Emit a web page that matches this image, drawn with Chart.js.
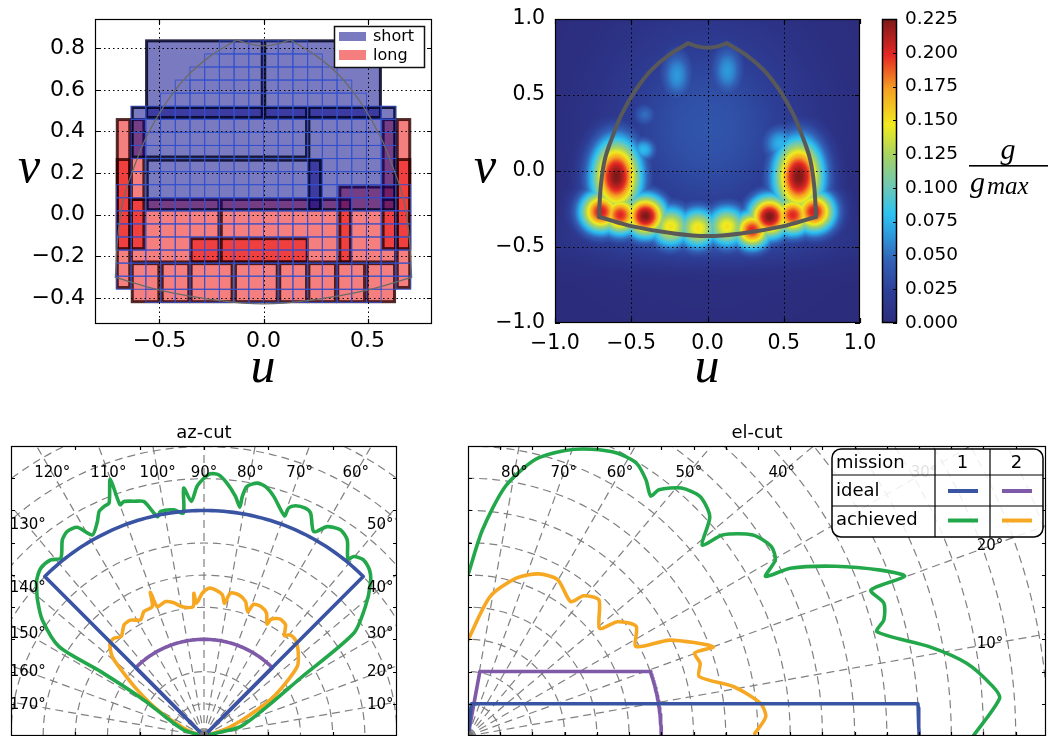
<!DOCTYPE html>
<html><head><meta charset="utf-8"><title>uv coverage and cuts</title>
<script src="https://cdn.jsdelivr.net/npm/chart.js@4.4.1/dist/chart.umd.min.js"></script>
<style>
html,body{margin:0;padding:0;background:#fff;}
body{position:relative;width:1048px;height:736px;overflow:hidden;}
canvas{position:absolute;}
</style></head><body>
<canvas id="cv1" width="440" height="400" style="left:0px;top:0px"></canvas>
<canvas id="cv2" width="450" height="400" style="left:440px;top:0px"></canvas>
<canvas id="cv2b" width="176" height="400" style="left:872px;top:0px"></canvas>
<canvas id="cv3" width="420" height="326" style="left:0px;top:410px"></canvas>
<canvas id="cv4" width="593" height="326" style="left:455px;top:410px"></canvas>
<script>
const DEG = Math.PI / 180;
Chart.defaults.font.family = '"DejaVu Sans", sans-serif';
Chart.defaults.color = '#000';

// ================= DATA: panel 1 (u,v layout) =================
const p1XTicks = [-0.5, 0.0, 0.5];
const p1YTicks = [-0.4, -0.2, 0.0, 0.2, 0.4, 0.6, 0.8];
const cellWidth = 0.0707, cellHeight = 0.0628, cellTopV = 0.835;
const cellRowHalf = [3,4,5,6,7,9,9,9,9,9,9,10,10,10,10,10,10,10,10,8];
const shortU0 = [-0.562, 0.006, -0.631, 0.218, -0.559];
const shortU1 = [-0.006, 0.562, 0.207, 0.631, 0.274];
const shortV0 = [0.467, 0.467, 0.277, 0.024, 0.024];
const shortV1 = [0.835, 0.835, 0.515, 0.515, 0.262];
const longU0 = [-0.703,-0.703,-0.635,-0.635, 0.643,0.643,0.575,0.575, -0.635,-0.203,0.367,-0.348, -0.631,-0.487,-0.348,-0.135,0.078,0.218,0.357,0.498];
const longU1 = [-0.643,-0.643,-0.575,-0.575, 0.703,0.703,0.635,0.635, -0.214,0.418,0.635,0.210, -0.503,-0.359,-0.151,0.066,0.207,0.346,0.486,0.630];
const longV0 = [-0.350,-0.163,0.073,-0.163, -0.350,-0.163,0.073,-0.163, -0.227,-0.227,-0.227,-0.227, -0.418,-0.418,-0.418,-0.418,-0.418,-0.418,-0.418,-0.418];
const longV1 = [0.457,0.265,0.457,0.073, 0.457,0.265,0.457,0.073, 0.073,0.073,0.133,-0.115, -0.235,-0.235,-0.235,-0.235,-0.235,-0.235,-0.235,-0.235];
const legendNames = ['short', 'long'];

// coverage outline (shared by both top panels)
const edgeLeftU = [-0.712,-0.700,-0.674,-0.623,-0.560,-0.471,-0.369,-0.254,-0.127];
const edgeLeftV = [-0.301,-0.103,0.072,0.226,0.379,0.533,0.664,0.763,0.840];
const edgeTopU = [-0.127,-0.060,0.000,0.060,0.127];
const edgeTopV = [0.840,0.818,0.811,0.818,0.840];
const edgeRightU = [0.127,0.254,0.369,0.471,0.560,0.623,0.674,0.700,0.712];
const edgeRightV = [0.840,0.763,0.664,0.533,0.379,0.226,0.072,-0.103,-0.301];
const edgeBottomU = [0.712,0.483,0.229,0.000,-0.229,-0.483,-0.712];
const edgeBottomV = [-0.301,-0.366,-0.410,-0.428,-0.410,-0.366,-0.301];

// ================= DATA: panel 2 (g / g_max map) =================
const p2Ticks = [-1.0, -0.5, 0.0, 0.5, 1.0];
const cbarTicks = [0.000,0.025,0.050,0.075,0.100,0.125,0.150,0.175,0.200,0.225];
const gMax = 0.225;
const hotU  = [-0.597, 0.598,-0.699,-0.572,-0.407,-0.241,-0.063, 0.127, 0.293, 0.407, 0.559, 0.699,-0.42, 0.48,-0.20, 0.13,-0.41, 0.00, 0.00];
const hotV  = [-0.037,-0.037,-0.268,-0.289,-0.296,-0.366,-0.377,-0.366,-0.388,-0.300,-0.290,-0.268, 0.14, 0.18, 0.63, 0.66, 0.37, 0.28,-0.42];
const hotG  = [ 0.225, 0.225, 0.205, 0.200, 0.225, 0.150, 0.150, 0.150, 0.200, 0.225, 0.200, 0.205, 0.078,0.075,0.065,0.065,0.050,0.038,0.045];
const hotSu = [ 0.115, 0.115, 0.10, 0.095, 0.10, 0.10, 0.10, 0.10, 0.09, 0.10, 0.095, 0.10, 0.065, 0.09, 0.08, 0.08, 0.06, 0.45, 0.55];
const hotSv = [ 0.175, 0.175, 0.10, 0.095, 0.10, 0.10, 0.10, 0.10, 0.09, 0.10, 0.095, 0.10, 0.06, 0.09, 0.13, 0.13, 0.06, 0.48, 0.13];
// colour map (muted jet)
const cmapPos = [0.00, 0.10, 0.20, 0.30, 0.36, 0.45, 0.55, 0.65, 0.77, 0.88, 1.00];
const cmapR   = [  44,   45,   50,   45,   45,  110,  165,  240,  245,  230,  125];
const cmapG   = [  44,   62,   95,  160,  195,  200,  210,  235,  160,   40,   25];
const cmapB   = [ 124,  150,  180,  225,  240,  180,  100,   30,   35,   35,   25];

// ================= DATA: panel 3 (az-cut) =================
const azIdealR = [7, 3];             // mission 1, mission 2
const azIdealSpan = [45, 135];       // degrees
const azGreenTheta = [5,13,14.3,24.9,30.9,34.4,38.7,42.5,45.0,47.8,50.1,50.8,53.8,56.5,59.5,61.7,64.4,66.0,68.3,69.6,69.9,73.7,76.1,78.1,80.2,80.9,81.1,82.5,84.8,86.8,88.6,90.0,91.6,93.1,94.7,95.3,97.6,101.0,102.0,104.4,106.5,108.9,110.0,110.1,112.2,113.6,115.1,116.5,119.1,121.3,123.8,125.9,128.9,131.1,134.3,137.0,138.3,140.8,144.4,148.4,148.1,149.1,154.3,163.5,175];
const azGreenR     = [0,0.37,1.17,2.16,3.49,5.64,6.43,7.02,7.28,7.38,7.26,7.08,7.54,7.68,7.54,7.20,7.67,7.74,7.69,7.55,7.28,7.74,7.97,8.02,7.86,7.53,7.19,7.50,7.88,8.12,8.14,8.00,7.75,7.29,7.72,6.95,7.08,7.10,6.96,7.51,7.60,7.69,7.64,8.48,7.81,7.77,7.69,7.43,7.14,7.58,7.64,7.51,7.09,7.25,7.27,7.11,6.97,6.68,6.18,5.29,3.78,2.18,1.27,0.65,0];
const azOrangeTheta = [8,16.9,24.1,29.4,36.6,42.4,46.4,49.7,51.2,53.7,57.1,60.1,60.6,63.0,66.1,69.3,70.6,72.8,76.1,79.5,81.2,82.6,85.5,88.1,90.7,93.2,94.1,94.8,99.6,102.8,106.0,109.9,110.5,111.8,115.8,118.7,122.4,125.8,129.8,132.7,135.5,139.2,142.0,145.4,149.7,154.7,162,172];
const azOrangeR     = [0,0.64,1.47,2.49,3.61,3.96,4.12,4.12,3.99,4.28,4.33,4.18,3.99,4.28,4.39,4.37,4.09,4.37,4.51,4.51,4.17,4.42,4.55,4.59,4.43,4.13,4.44,4.03,4.07,4.24,4.34,4.27,4.76,4.33,4.29,4.11,4.26,4.25,4.02,4.13,4.10,3.77,3.16,2.52,1.80,1.04,0.44,0];
const azLabelAngles = [10,20,30,40,50,60,70,80,90,100,110,120,130,140,150,160,170];

// ================= DATA: panel 4 (el-cut) =================
const elIdealHeight = [1, 2];
const elIdealRmax = [14, 6];
const elIdealTopAngle = [84, 79.6];
const elGreenTheta = [0.1,4.05,5.4,8.3,10.97,14.3,15.6,17.7,19.9,20.1,21.9,24.8,27.5,28.2,29.8,32.0,35.2,38.3,39.2,42.2,45.9,49.3,52.2,52.7,55.2,58.3,62.1,66.7,71.2,76.4,81.5,86.0,90.0];
const elGreenR     = [15.7,16.54,16.36,15.64,14.58,13.1,13.4,13.55,13.3,14.43,13.8,12.56,11.28,10.48,10.99,11.1,10.82,10.07,9.38,10.13,10.35,10.15,9.67,9.36,9.68,9.95,9.93,9.69,9.36,8.82,7.83,6.41,5.00];
const elOrangeTheta = [0.5,3.7,6.4,10.5,14.4,17.4,20.1,20.0,25.4,28.0,33.1,37.4,39.3,46.1,50.5,52.6,60.1,66.4,73.0,81.0,90.0];
const elOrangeR     = [8.9,9.26,9.13,8.39,7.41,7.55,7.49,8.10,6.94,5.91,6.23,5.84,5.28,5.86,5.64,5.25,5.59,5.49,5.12,4.38,2.98];
const elLabelAngles = [10,20,30,40,50,60,70,80];
const tableRows = ['mission', 'ideal', 'achieved'];
const tableCols = ['1', '2'];

// ================= styles =================
const C_BLUE = '#3a54a4', C_PURPLE = '#7f5aa8', C_GREEN = '#22a84a', C_ORANGE = '#f7a823';
const shortFill = 'rgba(0,0,135,0.52)', shortEdge = 'rgba(5,5,40,0.88)';
const longFill = 'rgba(235,0,0,0.5)', longEdge = 'rgba(45,0,0,0.82)';

// ================= helpers =================
function fmt(d) { return v => (Math.abs(v) < 1e-9 ? 0 : v).toFixed(d).replace('-', '\u2212'); }
const fixedTicks = arr => axis => { axis.ticks = arr.map(v => ({value: v})); };
const zeroPad = s => { s.paddingTop = 0; s.paddingBottom = 0; s.paddingLeft = 0; s.paddingRight = 0; };
const fitW = w => s => { s.width = w; zeroPad(s); };
const fitH = h => s => { s.height = h; zeroPad(s); };
function axis(min, max, ticks, size, pad, f, fit, position) {
  return { type: 'linear', min, max, position, afterBuildTicks: fixedTicks(ticks), afterFit: fit,
    grid: {display: false, drawTicks: false}, border: {display: false},
    ticks: {padding: pad, font: {size}, color: '#000', callback: f, autoSkip: false, maxRotation: 0, minRotation: 0} };
}
function hiddenAxis(min, max) { return {type: 'linear', min, max, display: false}; }
function baseOpts(padding, scales) {
  return { responsive: false, animation: false, events: [],
    layout: {padding, autoPadding: false},
    plugins: {legend: {display: false}, tooltip: {enabled: false}, title: {display: false}},
    scales };
}
function drawFrame(chart, xt, yt, len, lw) {
  const {ctx, chartArea: a, scales: {x, y}} = chart;
  ctx.save();
  ctx.setLineDash([]);
  ctx.strokeStyle = '#000'; ctx.lineWidth = lw || 1;
  ctx.strokeRect(Math.round(a.left) + 0.5, Math.round(a.top) + 0.5, Math.round(a.right - a.left) - 1, Math.round(a.bottom - a.top) - 1);
  ctx.beginPath();
  xt.forEach(v => { const px = Math.round(x.getPixelForValue(v)) + 0.5;
    ctx.moveTo(px, a.bottom); ctx.lineTo(px, a.bottom - len); ctx.moveTo(px, a.top); ctx.lineTo(px, a.top + len); });
  yt.forEach(v => { const py = Math.round(y.getPixelForValue(v)) + 0.5;
    ctx.moveTo(a.left, py); ctx.lineTo(a.left + len, py); ctx.moveTo(a.right, py); ctx.lineTo(a.right - len, py); });
  ctx.stroke();
  ctx.restore();
}
function drawDotGrid(chart, xt, yt) {
  const {ctx, chartArea: a, scales: {x, y}} = chart;
  ctx.save();
  ctx.strokeStyle = '#000'; ctx.lineWidth = 1; ctx.setLineDash([1.5, 3]);
  ctx.beginPath();
  xt.forEach(v => { const px = Math.round(x.getPixelForValue(v)) + 0.5; ctx.moveTo(px, a.top); ctx.lineTo(px, a.bottom); });
  yt.forEach(v => { const py = Math.round(y.getPixelForValue(v)) + 0.5; ctx.moveTo(a.left, py); ctx.lineTo(a.right, py); });
  ctx.stroke();
  ctx.restore();
}
function outlineDatasets(color, width) {
  const segs = [[edgeLeftU, edgeLeftV], [edgeTopU, edgeTopV], [edgeRightU, edgeRightV], [edgeBottomU, edgeBottomV]];
  return segs.map(([U, V]) => ({ data: U.map((u, i) => ({x: u, y: V[i]})), showLine: true,
    borderColor: color, borderWidth: width, pointRadius: 0, tension: 0.4, fill: false,
    borderCapStyle: 'round', borderJoinStyle: 'round' }));
}
function cmap(f) {
  f = Math.max(0, Math.min(1, f));
  for (let i = 1; i < cmapPos.length; i++) {
    if (f <= cmapPos[i]) {
      const t = (f - cmapPos[i - 1]) / (cmapPos[i] - cmapPos[i - 1]);
      return [cmapR[i-1] + t * (cmapR[i] - cmapR[i-1]), cmapG[i-1] + t * (cmapG[i] - cmapG[i-1]), cmapB[i-1] + t * (cmapB[i] - cmapB[i-1])];
    }
  }
  return [cmapR[cmapR.length-1], cmapG[cmapG.length-1], cmapB[cmapB.length-1]];
}
function field(u, v) {
  let g = 0;
  for (let i = 0; i < hotU.length; i++) {
    const du = (u - hotU[i]) / hotSu[i], dv = (v - hotV[i]) / hotSv[i];
    const val = hotG[i] * Math.exp(-0.5 * (du * du + dv * dv));
    if (val > g) g = val;
  }
  return g;
}
function mathLabel(ctx, txt, x, y, size) {
  ctx.save();
  ctx.font = 'italic ' + size + 'px "Liberation Serif", serif';
  ctx.fillStyle = '#000'; ctx.textAlign = 'center'; ctx.textBaseline = 'alphabetic';
  ctx.fillText(txt, x, y);
  ctx.restore();
}
const polar = (t, r) => ({x: r * Math.cos(t * DEG), y: r * Math.sin(t * DEG)});
const polarSeries = (T, R) => T.map((t, i) => polar(t, R[i]));
function azIdealPath(m) {
  const pts = [{x: 0, y: 0}];
  for (let t = azIdealSpan[0]; t <= azIdealSpan[1]; t += 1) pts.push(polar(t, azIdealR[m]));
  pts.push({x: 0, y: 0});
  return pts;
}
function elIdealPath(m) {
  const h = elIdealHeight[m], R = elIdealRmax[m], t0 = elIdealTopAngle[m];
  const pts = [{x: 0, y: 0}, {x: h / Math.tan(t0 * DEG), y: h}];
  const tc = Math.asin(h / R) / DEG;
  for (let t = tc; t > 0; t -= 0.5) pts.push(polar(t, R));
  pts.push({x: R, y: 0});
  return pts;
}
function lineDs(data, color, tension) {
  return {data, showLine: true, borderColor: color, borderWidth: 3.6, pointRadius: 0, fill: false,
    tension, clip: 0, borderJoinStyle: 'round', borderCapStyle: 'round'};
}

// ================= panel 1 =================
const p1Plugin = {
  id: 'p1decor',
  beforeDatasetsDraw(chart) {
    const {ctx, chartArea: a, scales: {x, y}} = chart;
    const box = (u0, u1, v0, v1) => { const X0 = x.getPixelForValue(u0), X1 = x.getPixelForValue(u1);
      const Y0 = y.getPixelForValue(v1), Y1 = y.getPixelForValue(v0); return [X0, Y0, X1 - X0, Y1 - Y0]; };
    ctx.save();
    ctx.beginPath(); ctx.rect(a.left, a.top, a.right - a.left, a.bottom - a.top); ctx.clip();
    ctx.lineWidth = 3;
    ctx.fillStyle = longFill;
    longU0.forEach((_, i) => ctx.fillRect(...box(longU0[i], longU1[i], longV0[i], longV1[i])));
    ctx.strokeStyle = longEdge;
    longU0.forEach((_, i) => ctx.strokeRect(...box(longU0[i], longU1[i], longV0[i], longV1[i])));
    ctx.fillStyle = shortFill;
    shortU0.forEach((_, i) => ctx.fillRect(...box(shortU0[i], shortU1[i], shortV0[i], shortV1[i])));
    ctx.strokeStyle = shortEdge;
    shortU0.forEach((_, i) => ctx.strokeRect(...box(shortU0[i], shortU1[i], shortV0[i], shortV1[i])));
    ctx.strokeStyle = 'rgba(50,80,205,0.9)'; ctx.lineWidth = 1;
    cellRowHalf.forEach((hw, k) => {
      const vT = cellTopV - k * cellHeight, vB = vT - cellHeight;
      for (let c = -hw; c < hw; c++) ctx.strokeRect(...box(c * cellWidth, (c + 1) * cellWidth, vB, vT));
    });
    ctx.restore();
    drawDotGrid(chart, p1XTicks, p1YTicks);
  },
  afterDatasetsDraw(chart) {
    const {ctx} = chart;
    drawFrame(chart, p1XTicks, p1YTicks, 5, 1.2);
    ctx.save();
    ctx.fillStyle = '#fff'; ctx.fillRect(334, 26, 91, 42);
    ctx.strokeStyle = '#111'; ctx.lineWidth = 1.5; ctx.strokeRect(334.5, 26.5, 90, 41);
    ctx.fillStyle = shortFill; ctx.fillRect(339, 32, 27, 9);
    ctx.fillStyle = longFill; ctx.fillRect(339, 50, 27, 10);
    ctx.fillStyle = '#000'; ctx.font = '16px "DejaVu Sans"'; ctx.textBaseline = 'middle'; ctx.textAlign = 'left';
    ctx.fillText(legendNames[0], 373, 37);
    ctx.fillText(legendNames[1], 373, 56);
    ctx.restore();
    mathLabel(ctx, 'v', 29, 182, 50);
    mathLabel(ctx, 'u', 263, 382, 50);
  }
};
new Chart(document.getElementById('cv1'), {
  type: 'scatter',
  data: {datasets: outlineDatasets('#6a6a6a', 1.3)},
  options: baseOpts({left: 0, top: 19, right: 8, bottom: 0}, {
    x: axis(-0.81, 0.81, p1XTicks, 22, 4, fmt(1), fitH(76), 'bottom'),
    y: axis(-0.525, 0.94, p1YTicks, 22, 10, fmt(1), fitW(95), 'left')
  }),
  plugins: [p1Plugin]
});

// ================= panel 2 =================
const p2Plugin = {
  id: 'p2decor',
  beforeDatasetsDraw(chart) {
    const {ctx, chartArea: a, scales: {x, y}} = chart;
    const L = Math.round(a.left), T = Math.round(a.top);
    const w = Math.round(a.right) - L, h = Math.round(a.bottom) - T;
    const img = ctx.createImageData(w, h);
    for (let j = 0; j < h; j++) {
      const v = y.getValueForPixel(T + j + 0.5);
      for (let i = 0; i < w; i++) {
        const u = x.getValueForPixel(L + i + 0.5);
        const c = cmap(field(u, v) / gMax);
        const k = 4 * (j * w + i);
        img.data[k] = c[0]; img.data[k + 1] = c[1]; img.data[k + 2] = c[2]; img.data[k + 3] = 255;
      }
    }
    ctx.putImageData(img, L, T);
    drawDotGrid(chart, [-0.5, 0, 0.5], [-0.5, 0, 0.5]);
  },
  afterDatasetsDraw(chart) {
    drawFrame(chart, p2Ticks, p2Ticks, 5, 1.2);
    mathLabel(chart.ctx, 'v', 45, 182, 50);
    mathLabel(chart.ctx, 'u', 267, 382, 50);
  }
};
new Chart(document.getElementById('cv2'), {
  type: 'scatter',
  data: {datasets: outlineDatasets('#595959', 4)},
  options: baseOpts({left: 0, top: 19, right: 30, bottom: 0}, {
    x: axis(-1, 1, p2Ticks, 20.5, 8, fmt(1), fitH(77), 'bottom'),
    y: axis(-1, 1, p2Ticks, 20.5, 10, fmt(1), fitW(115), 'left')
  }),
  plugins: [p2Plugin]
});

// colour bar
const cbPlugin = {
  id: 'cbdecor',
  beforeDatasetsDraw(chart) {
    const {ctx, chartArea: a, scales: {y}} = chart;
    for (let py = Math.round(a.top); py < Math.round(a.bottom); py++) {
      const c = cmap(y.getValueForPixel(py + 0.5) / gMax);
      ctx.fillStyle = 'rgb(' + c.map(Math.round).join(',') + ')';
      ctx.fillRect(a.left, py, a.right - a.left, 1);
    }
  },
  afterDatasetsDraw(chart) {
    const {ctx, chartArea: a, scales: {y}} = chart;
    ctx.save();
    ctx.strokeStyle = '#000'; ctx.lineWidth = 1.5;
    ctx.strokeRect(a.left + 0.5, a.top + 0.5, a.right - a.left - 1, a.bottom - a.top - 1);
    ctx.lineWidth = 1; ctx.beginPath();
    cbarTicks.forEach(v => { const py = Math.round(y.getPixelForValue(v)) + 0.5; ctx.moveTo(a.right, py); ctx.lineTo(a.right - 4, py); });
    ctx.stroke();
    ctx.fillStyle = '#000';
    ctx.font = 'italic 30px "Liberation Serif", serif'; ctx.textAlign = 'center'; ctx.textBaseline = 'alphabetic';
    ctx.fillText('g', 136, 159);
    ctx.fillRect(97, 165, 79, 1.6);
    ctx.textAlign = 'left';
    ctx.fillText('g', 98, 192);
    ctx.font = 'italic 25px "Liberation Serif", serif';
    ctx.fillText('max', 115, 194);
    ctx.restore();
  }
};
new Chart(document.getElementById('cv2b'), {
  type: 'scatter',
  data: {datasets: []},
  options: baseOpts({left: 10, top: 19, right: 0, bottom: 77}, {
    x: hiddenAxis(0, 1),
    y: axis(0, gMax, cbarTicks, 18.5, 8, fmt(3), fitW(151), 'right')
  }),
  plugins: [cbPlugin]
});

// ================= polar panels =================
function polarPlugin(cfg) {
  return {
    id: 'polar' + cfg.name,
    beforeDatasetsDraw(chart) {
      const {ctx, chartArea: a, scales: {x, y}} = chart;
      const ox = x.getPixelForValue(0), oy = y.getPixelForValue(0), ppu = x.getPixelForValue(1) - ox;
      ctx.save();
      ctx.beginPath(); ctx.rect(a.left, a.top, a.right - a.left, a.bottom - a.top); ctx.clip();
      ctx.strokeStyle = '#808080'; ctx.lineWidth = 1.2; ctx.setLineDash([8, 5]);
      for (let r = 1; r <= cfg.ringMax; r += 1) { ctx.beginPath(); ctx.arc(ox, oy, r * ppu, Math.PI, 2 * Math.PI); ctx.stroke(); }
      for (let t = 0; t <= 180; t += 10) {
        ctx.beginPath(); ctx.moveTo(ox, oy);
        ctx.lineTo(ox + 30 * ppu * Math.cos(t * DEG), oy - 30 * ppu * Math.sin(t * DEG)); ctx.stroke();
      }
      ctx.restore();
    },
    afterDatasetsDraw(chart) {
      const {ctx, chartArea: a, scales: {x, y}} = chart;
      const ox = x.getPixelForValue(0), oy = y.getPixelForValue(0);
      ctx.save();
      ctx.beginPath(); ctx.rect(a.left, a.top, a.right - a.left, a.bottom - a.top); ctx.clip();
      ctx.fillStyle = '#777'; ctx.beginPath(); ctx.arc(ox, oy, 5, Math.PI, 2 * Math.PI); ctx.fill();
      ctx.restore();
      ctx.save();
      ctx.font = '15px "DejaVu Sans"'; ctx.fillStyle = '#000'; ctx.textAlign = 'center'; ctx.textBaseline = 'middle';
      cfg.labels.forEach(t => {
        const c = Math.cos(t * DEG), s = Math.sin(t * DEG);
        let k = cfg.labTop / s;
        if (c > 1e-6) k = Math.min(k, cfg.labRight / c);
        if (c < -1e-6 && cfg.labLeft !== undefined) k = Math.min(k, cfg.labLeft / c);
        ctx.fillText(t + '\u00b0', x.getPixelForValue(k * c), y.getPixelForValue(k * s));
      });
      ctx.font = '18px "DejaVu Sans"';
      ctx.fillText(cfg.title, (a.left + a.right) / 2, a.top - 13);
      ctx.restore();
      drawFrame(chart, cfg.xt, cfg.yt, 4, 1.2);
      if (cfg.table) drawTable(chart, cfg);
    }
  };
}
function drawTable(chart, cfg) {
  const {ctx} = chart;
  const x0 = 377, x1 = 588, y0 = 39, y1 = 127, c1 = 480, c2 = 535, r1 = 65, r2 = 96;
  ctx.save();
  ctx.beginPath();
  if (ctx.roundRect) ctx.roundRect(x0, y0, x1 - x0, y1 - y0, 9); else ctx.rect(x0, y0, x1 - x0, y1 - y0);
  ctx.fillStyle = 'rgba(255,255,255,0.88)'; ctx.fill();
  ctx.strokeStyle = '#000'; ctx.lineWidth = 1.5; ctx.stroke();
  ctx.lineWidth = 1.2; ctx.beginPath();
  ctx.moveTo(c1, y0); ctx.lineTo(c1, y1); ctx.moveTo(c2, y0); ctx.lineTo(c2, y1);
  ctx.moveTo(x0, r1); ctx.lineTo(x1, r1); ctx.moveTo(x0, r2); ctx.lineTo(x1, r2);
  ctx.stroke();
  ctx.fillStyle = '#000'; ctx.font = '18px "DejaVu Sans"'; ctx.textBaseline = 'middle';
  ctx.textAlign = 'left';
  ctx.fillText(tableRows[0], 381, 53); ctx.fillText(tableRows[1], 381, 81); ctx.fillText(tableRows[2], 381, 110);
  ctx.textAlign = 'center';
  ctx.fillText(tableCols[0], (c1 + c2) / 2, 53); ctx.fillText(tableCols[1], (c2 + x1) / 2, 53);
  const seg = (xa, yy, col) => { ctx.strokeStyle = col; ctx.lineWidth = 4; ctx.beginPath(); ctx.moveTo(xa, yy); ctx.lineTo(xa + 30, yy); ctx.stroke(); };
  seg(493, 81, C_BLUE); seg(547, 81, C_PURPLE); seg(493, 110.5, C_GREEN); seg(547, 110.5, C_ORANGE);
  ctx.restore();
}

new Chart(document.getElementById('cv3'), {
  type: 'scatter',
  data: {datasets: [
    lineDs(azIdealPath(0), C_BLUE, 0),
    lineDs(azIdealPath(1), C_PURPLE, 0),
    lineDs(polarSeries(azGreenTheta, azGreenR), C_GREEN, 0.25),
    lineDs(polarSeries(azOrangeTheta, azOrangeR), C_ORANGE, 0.25)
  ]},
  options: baseOpts({left: 11, top: 36, right: 23, bottom: 0}, {x: hiddenAxis(-6, 6), y: hiddenAxis(0, 9)}),
  plugins: [polarPlugin({name: 'az', title: 'az-cut', ringMax: 12, labels: azLabelAngles,
    labLeft: -5.48, labRight: 5.48, labTop: 8.17, xt: [-4, -2, 0, 2, 4], yt: [1,2,3,4,5,6,7,8], table: false})]
});

new Chart(document.getElementById('cv4'), {
  type: 'scatter',
  data: {datasets: [
    lineDs(elIdealPath(0), C_BLUE, 0),
    lineDs(elIdealPath(1), C_PURPLE, 0),
    lineDs(polarSeries(elGreenTheta, elGreenR), C_GREEN, 0.25),
    lineDs(polarSeries(elOrangeTheta, elOrangeR), C_ORANGE, 0.25)
  ]},
  options: baseOpts({left: 13, top: 36, right: 2, bottom: 0}, {x: hiddenAxis(0, 17.94), y: hiddenAxis(0, 9)}),
  plugins: [polarPlugin({name: 'el', title: 'el-cut', ringMax: 21, labels: elLabelAngles,
    labRight: 16.2, labTop: 8.17, xt: [1,2,3,4,5,6,7,8,9,10,11,12,13,14,15,16,17], yt: [1,2,3,4,5,6,7,8], table: true})]
});
</script>
</body></html>
